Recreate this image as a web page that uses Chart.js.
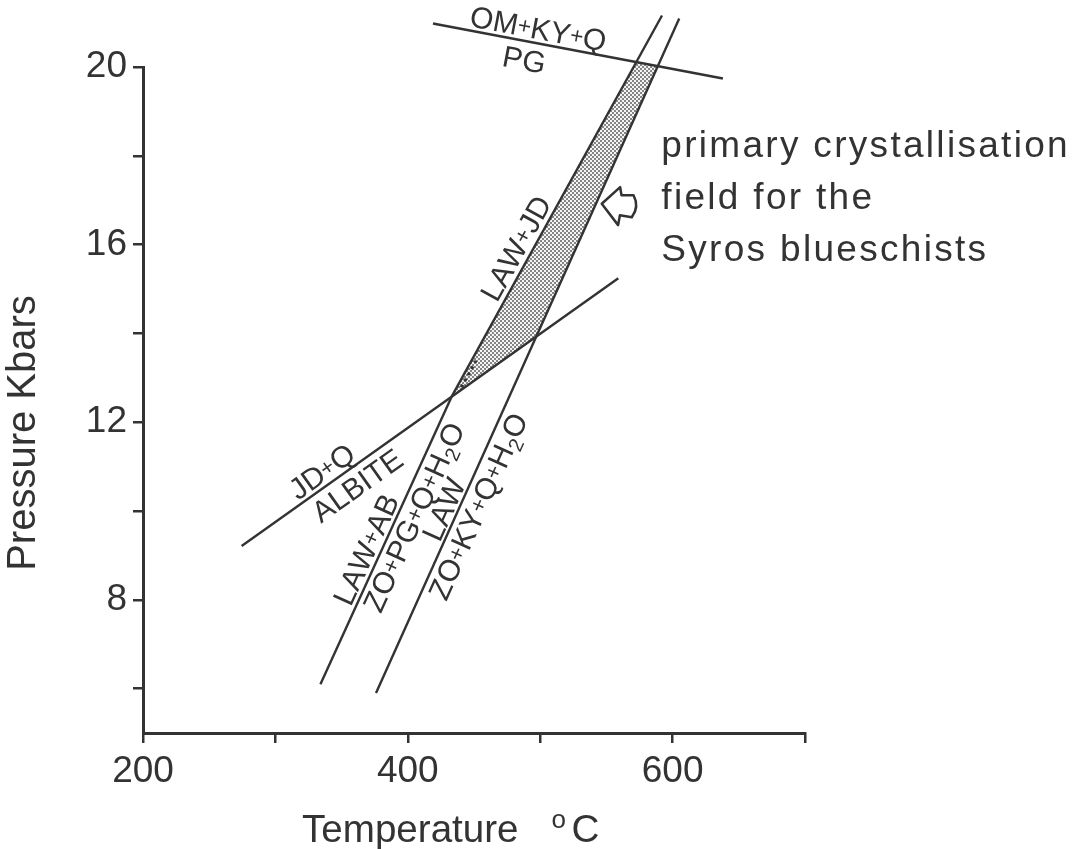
<!DOCTYPE html>
<html>
<head>
<meta charset="utf-8">
<script src="https://cdn.jsdelivr.net/npm/chart.js@4.4.1/dist/chart.umd.min.js"></script>
<style>
  html, body { margin: 0; padding: 0; background: #fff; }
  canvas { display: block; }
</style>
</head>
<body>
<canvas id="syrosChart" width="1080" height="849"></canvas>
<script>
// axis ticks
const tempTicks = [200, 300, 400, 500, 600, 700];
const tempLabels = [200, 400, 600];
const presTicks = [6, 8, 10, 12, 14, 16, 18, 20];
const presLabels = [8, 12, 16, 20];

// reaction lines, temperature (C) and pressure (kbar)
const omTemp = [419, 638];        // OM+KY+Q = PG
const omPres = [20.98, 19.74];
const lawAbTemp = [334, 433];     // LAW+AB = ZO+PG+Q+H2O
const lawAbPres = [6.1, 12.57];
const lawJdTemp = [433, 592];     // LAW+JD
const lawJdPres = [12.57, 21.16];
const lawTemp = [376, 605];       // LAW = ZO+KY+Q+H2O
const lawPres = [5.9, 21.09];
const albTemp = [274.5, 559];     // JD+Q = ALBITE
const albPres = [9.21, 15.24];

// shaded field (corners)
const fieldTemp = [433, 497, 589, 572.5];
const fieldPres = [12.57, 13.93, 20.02, 20.11];

// where the arrow points
const arrowTemp = 546.5;
const arrowPres = 16.92;

const FONT = "'Liberation Sans', Arial, sans-serif";
const INK = '#333';

// labels sit along a line: f = fraction along it, off = pixels to the side
const lineLabels = [
  { text: 'OM+KY+Q', line: 0, f: 0.354, off: -15 },
  { text: 'PG', line: 0, f: 0.327, off: 18 },
  { text: 'JD+Q', line: 4, f: 0.235, off: -15 },
  { text: 'ALBITE', line: 4, f: 0.28, off: 17 },
  { text: 'LAW+AB', line: 1, f: 0.448, off: -15 },
  { text: 'ZO+PG+Q+H_2O', line: 1, f: 0.604, off: 15 },
  { text: 'LAW', line: 3, f: 0.264, off: -14 },
  { text: 'ZO+KY+Q+H_2O', line: 3, f: 0.287, off: 16 },
  { text: 'LAW+JD', line: 2, f: 0.37, off: -16 }
];

function toPoints(ts, ps) {
  return ts.map((t, i) => ({ x: t, y: ps[i] }));
}

function stipple() {
  const c = document.createElement('canvas');
  c.width = 4; c.height = 4;
  const g = c.getContext('2d');
  g.fillStyle = '#f4f4f4';
  g.fillRect(0, 0, 4, 4);
  g.fillStyle = '#858585';
  g.fillRect(0, 0, 2, 2);
  g.fillRect(2, 2, 2, 2);
  return c;
}

// text with small plus signs and subscripts (_2)
function drawRich(ctx, str, size) {
  const parts = [];
  for (let i = 0; i < str.length; i++) {
    const c = str[i];
    if (c === '_') {
      i++;
      parts.push({ t: str[i], s: size * 0.68, dy: size * 0.2 });
    } else if (c === '+') {
      parts.push({ t: c, s: size * 0.75, dy: -size * 0.1 });
    } else {
      parts.push({ t: c, s: size, dy: 0 });
    }
  }
  let w = 0;
  parts.forEach(p => {
    ctx.font = p.s + 'px ' + FONT;
    p.w = ctx.measureText(p.t).width;
    w += p.w;
  });
  let cx = -w / 2;
  ctx.textAlign = 'left';
  ctx.textBaseline = 'alphabetic';
  parts.forEach(p => {
    ctx.font = p.s + 'px ' + FONT;
    ctx.fillText(p.t, cx, size * 0.36 + p.dy);
    cx += p.w;
  });
}

const drawings = {
  id: 'drawings',
  beforeDatasetsDraw(chart) {
    const { ctx, scales: { x, y } } = chart;
    ctx.save();
    ctx.beginPath();
    fieldTemp.forEach((t, i) => {
      const px = x.getPixelForValue(t);
      const py = y.getPixelForValue(fieldPres[i]);
      if (i === 0) ctx.moveTo(px, py); else ctx.lineTo(px, py);
    });
    ctx.closePath();
    ctx.fillStyle = ctx.createPattern(stipple(), 'repeat');
    ctx.fill();
    ctx.restore();
  },
  afterDatasetsDraw(chart) {
    const { ctx, chartArea, scales: { x, y } } = chart;
    ctx.save();
    ctx.fillStyle = INK;
    ctx.strokeStyle = INK;

    // labels along the lines
    lineLabels.forEach(lb => {
      const pts = chart.getDatasetMeta(lb.line).data;
      const a = pts[0], b = pts[pts.length - 1];
      const dx = b.x - a.x, dy = b.y - a.y;
      const len = Math.hypot(dx, dy);
      const nx = -dy / len, ny = dx / len;
      const cx = a.x + dx * lb.f + nx * lb.off;
      const cy = a.y + dy * lb.f + ny * lb.off;
      ctx.save();
      ctx.translate(cx, cy);
      ctx.rotate(Math.atan2(dy, dx));
      drawRich(ctx, lb.text, 30);
      ctx.restore();
    });

    // little dots above the triple point
    const up = chart.getDatasetMeta(2).data;
    const ux = up[1].x - up[0].x, uy = up[1].y - up[0].y;
    const ul = Math.hypot(ux, uy);
    ctx.save();
    ctx.lineWidth = 3;
    ctx.setLineDash([3, 4]);
    ctx.beginPath();
    ctx.moveTo(up[0].x + ux * 0.03 - uy / ul * 4, up[0].y + uy * 0.03 + ux / ul * 4);
    ctx.lineTo(up[0].x + ux * 0.1 - uy / ul * 4, up[0].y + uy * 0.1 + ux / ul * 4);
    ctx.stroke();
    ctx.restore();

    // hollow arrow
    const ax = x.getPixelForValue(arrowTemp);
    const ay = y.getPixelForValue(arrowPres);
    ctx.save();
    ctx.translate(ax, ay);
    ctx.rotate(0.08);
    ctx.lineWidth = 2.5;
    ctx.lineJoin = 'round';
    ctx.beginPath();
    ctx.moveTo(0, 0);
    ctx.lineTo(17, -18);
    ctx.lineTo(19, -10);
    ctx.lineTo(31, -11);
    ctx.quadraticCurveTo(38, 0, 31, 11);
    ctx.lineTo(19, 10);
    ctx.lineTo(18, 20);
    ctx.closePath();
    ctx.fillStyle = '#fff';
    ctx.fill();
    ctx.stroke();
    ctx.restore();

    // annotation
    const tx = x.getPixelForValue(591.5);
    const ty = y.getPixelForValue(17.97);
    ctx.font = '37px ' + FONT;
    ctx.textAlign = 'left';
    ctx.textBaseline = 'alphabetic';
    ctx.letterSpacing = '2.3px';
    ['primary crystallisation', 'field for the', 'Syros blueschists'].forEach((s, i) => {
      ctx.fillText(s, tx, ty + i * 52);
    });
    ctx.letterSpacing = '0px';

    // axis titles
    ctx.font = '40px ' + FONT;
    ctx.save();
    ctx.translate(24, (chartArea.top + chartArea.bottom) / 2 + 33);
    ctx.rotate(-Math.PI / 2);
    ctx.textAlign = 'center';
    ctx.textBaseline = 'middle';
    ctx.fillText('Pressure Kbars', 0, 0);
    ctx.restore();

    ctx.font = '38.6px ' + FONT;
    const bx = (chartArea.left + chartArea.right) / 2 - 172;
    const by = chartArea.bottom + 109;
    ctx.textAlign = 'left';
    ctx.fillText('Temperature', bx, by);
    const tw = ctx.measureText('Temperature').width;
    ctx.font = '26px ' + FONT;
    ctx.fillText('o', bx + tw + 33, by - 14);
    ctx.font = '38.6px ' + FONT;
    ctx.fillText('C', bx + tw + 53, by);
    ctx.restore();
  }
};

function lineSet(ts, ps) {
  return {
    data: toPoints(ts, ps),
    showLine: true,
    borderColor: INK,
    borderWidth: 2.4,
    pointRadius: 0,
    clip: false
  };
}

const ctx = document.getElementById('syrosChart').getContext('2d');
new Chart(ctx, {
  type: 'scatter',
  data: {
    datasets: [
      lineSet(omTemp, omPres),
      lineSet(lawAbTemp, lawAbPres),
      lineSet(lawJdTemp, lawJdPres),
      lineSet(lawTemp, lawPres),
      lineSet(albTemp, albPres)
    ]
  },
  options: {
    responsive: false,
    animation: false,
    devicePixelRatio: 1,
    layout: { padding: { left: 0, top: 67, right: 275, bottom: 0 } },
    plugins: { legend: { display: false }, tooltip: { enabled: false } },
    scales: {
      x: {
        type: 'linear',
        min: 200,
        max: 700,
        afterFit: s => { s.height = 116; },
        afterBuildTicks: s => { s.ticks = tempTicks.map(v => ({ value: v })); },
        ticks: {
          padding: 7,
          color: INK,
          font: { family: FONT, size: 37 },
          callback: v => tempLabels.includes(v) ? String(v) : ''
        },
        grid: { drawOnChartArea: false, drawTicks: true, tickLength: 10, lineWidth: 2.5, color: INK },
        border: { display: true, color: INK, width: 3 }
      },
      y: {
        type: 'linear',
        min: 5,
        max: 20,
        afterFit: s => { s.width = 143; },
        afterBuildTicks: s => { s.ticks = presTicks.map(v => ({ value: v })); },
        ticks: {
          padding: 6,
          color: INK,
          font: { family: FONT, size: 37 },
          callback: v => presLabels.includes(v) ? String(v) : ''
        },
        grid: { drawOnChartArea: false, drawTicks: true, tickLength: 10, lineWidth: 2.5, color: INK },
        border: { display: true, color: INK, width: 3 }
      }
    }
  },
  plugins: [drawings]
});
</script>
</body>
</html>
